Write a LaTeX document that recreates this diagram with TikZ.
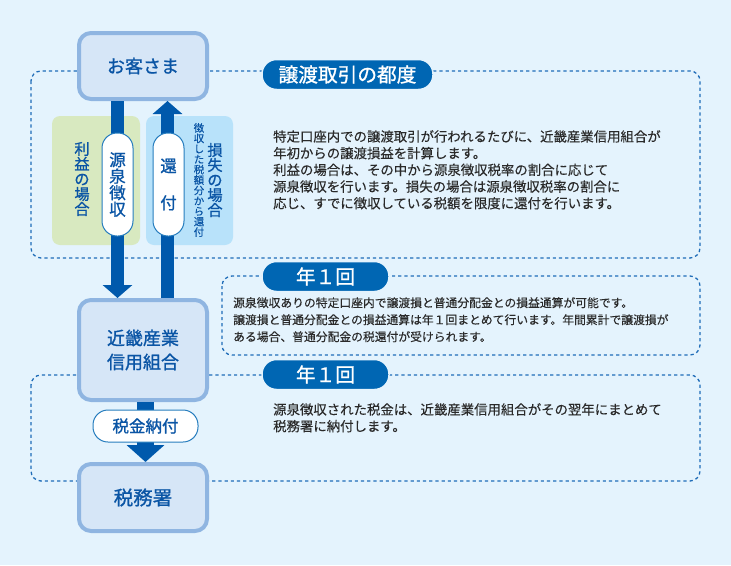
\documentclass[tikz,border=0pt]{standalone}
\usepackage{fontspec}
\setmainfont{Noto Sans CJK JP}
\newfontfamily\lblfont[FakeBold=1.1]{Noto Sans CJK JP}
\newfontfamily\notefont[FakeBold=0.2]{Noto Sans CJK JP}
\usepackage{xcolor}
\usetikzlibrary{arrows.meta}
\definecolor{bgblue}{HTML}{E4F3FD}
\definecolor{boxfill}{HTML}{D6E6F7}
\definecolor{boxline}{HTML}{8FB5E1}
\definecolor{dashblue}{HTML}{1F6CB8}
\definecolor{arrowblue}{HTML}{0059AC}
\definecolor{pillblue}{HTML}{0066B3}
\definecolor{lblblue}{HTML}{0A55A5}
\definecolor{gainfill}{HTML}{D8E9C0}
\definecolor{lossfill}{HTML}{B8E2FA}
\definecolor{bodytext}{HTML}{2A2A2A}
\begin{document}
\begin{tikzpicture}[line join=round,x=1pt,y=-1pt,
  inner sep=0pt,
  flowbox/.style={draw=boxline,fill=boxfill,line width=4pt,rounded corners=12pt,minimum width=128pt,text=lblblue,align=center},
  dashbox/.style={draw=dashblue,line width=1.3pt,dash pattern=on 3.2pt off 3pt,rounded corners=10pt},
  whenpill/.style={fill=pillblue,draw=bgblue,line width=1.5pt,rounded corners=14.5pt,minimum height=30pt,text=white,font=\lblfont\fontsize{19.7}{22}\selectfont},
  sidepill/.style={draw=pillblue!85!white,fill=white,line width=1pt,rounded corners=15pt,minimum width=31pt,minimum height=103pt,text=lblblue,align=center},
  flowarrow/.style={draw=arrowblue,line width=13pt,-{Triangle[width=29pt,length=13pt]}},
  body/.style={anchor=north west,align=left,text=bodytext},
  caselabel/.style={text=lblblue,align=center}]
\fill[bgblue] (0,0) rectangle (731,565);
\draw[dashbox] (31,71) rectangle (700,258);
\draw[dashbox] (222,276) rectangle (700,355);
\draw[dashbox] (31,375) rectangle (700,481);
\fill[gainfill,rounded corners=8pt] (52,116) rectangle (140,245);
\fill[lossfill,rounded corners=8pt] (146,116) rectangle (233,245);
\node[flowbox,minimum height=66pt,font=\lblfont\fontsize{18}{20}\selectfont] (kyaku) at (143,66) {\raisebox{1pt}{お客さま}};
\node[flowbox,minimum height=100pt,font=\lblfont\fontsize{18}{24}\selectfont] (kinki) at (143,350) {近畿産業\\信用組合};
\node[flowbox,minimum height=67pt,font=\lblfont\fontsize{19.5}{22}\selectfont] (zeimu) at (143,497.5) {\raisebox{-3pt}{税務署}};
\draw[flowarrow] ([xshift=-25.5pt]kyaku.south) -- ([xshift=-25.5pt]kinki.north);
\draw[flowarrow] ([xshift=24.5pt]kinki.north) -- ([xshift=24.5pt]kyaku.south);
\draw[flowarrow,line width=17pt,-{Triangle[width=37pt,length=17pt]}] ([xshift=2.5pt]kinki.south) -- ([xshift=2.5pt]zeimu.north);
\node[sidepill,font=\lblfont\fontsize{16.5}{16.5}\selectfont] (gensen) at (117.5,184.5) {源\\泉\\徴\\収};
\node[sidepill,font=\lblfont\fontsize{16.5}{37}\selectfont] (kanpu) at (168.5,184.5) {還\\付};
\node[draw=pillblue!85!white,fill=white,line width=1pt,rounded corners=15pt,minimum width=105pt,minimum height=32pt,text=lblblue,font=\lblfont\fontsize{16.5}{18}\selectfont] (nofu) at (145.5,426) {税金納付};
\node[caselabel,font=\lblfont\fontsize{15.2}{15}\selectfont] (rieki) at (82,179) {利\\益\\の\\場\\合};
\node[caselabel,font=\lblfont\fontsize{15.2}{15}\selectfont] (sonshitsu) at (215,180) {損\\失\\の\\場\\合};
\node[caselabel,font=\notefont\fontsize{10.4}{10.4}\selectfont] (kanpunote) at (199,180) {徴\\収\\し\\た\\税\\額\\分\\か\\ら\\還\\付};
\node[whenpill,minimum width=171pt] (tsudo) at (347.5,74.5) {譲渡取引の都度};
\node[whenpill,minimum width=127pt] (nen1) at (325.5,276.5) {年１回};
\node[whenpill,minimum width=127pt] (nen2) at (325.5,374.5) {年１回};
\node[body,font=\notefont\fontsize{13.4}{16.7}\selectfont] (tsudotext) at (273,130) {特定口座内での譲渡取引が行われるたびに、近畿産業信用組合が\\年初からの譲渡損益を計算します。\\利益の場合は、その中から源泉徴収税率の割合に応じて\\源泉徴収を行います。損失の場合は源泉徴収税率の割合に\\応じ、すでに徴収している税額を限度に還付を行います。};
\node[body,font=\notefont\fontsize{11.8}{17}\selectfont] (nen1text) at (233,297) {源泉徴収ありの特定口座内で譲渡損と普通分配金との損益通算が可能です。\\譲渡損と普通分配金との損益通算は年１回まとめて行います。年間累計で譲渡損が\\ある場合、普通分配金の税還付が受けられます。};
\node[body,font=\notefont\fontsize{13.4}{16.7}\selectfont] (nen2text) at (273,403) {源泉徴収された税金は、近畿産業信用組合がその翌年にまとめて\\税務署に納付します。};
\end{tikzpicture}
\end{document}
